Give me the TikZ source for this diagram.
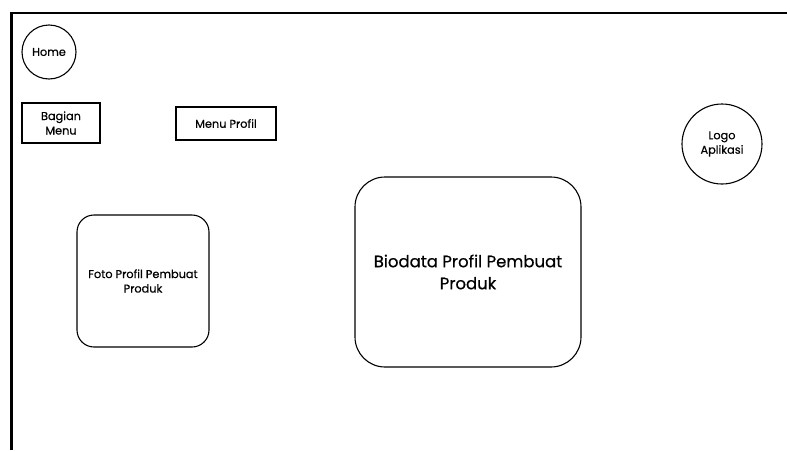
\documentclass[tikz,border=0pt]{standalone}
\usepackage{fontspec}
\setmainfont{Poppins}[FakeBold=0.5]
\begin{document}
\begin{tikzpicture}[x=1pt,y=-1pt,
  frame/.style={line width=2.6pt},
  ring/.style={draw, circle, line width=1.1pt, inner sep=0pt, align=center},
  boxed/.style={draw, rectangle, line width=1.1pt, inner sep=0pt, align=center},
  card/.style={draw, rectangle, rounded corners=#1, line width=1.1pt, inner sep=0pt, align=center},
  small/.style={font=\fontsize{11.3}{14.5}\selectfont},
  big/.style={font=\fontsize{16.5}{22}\selectfont}]
\useasboundingbox (0,0) rectangle (787,450);
% screen outline (top and left edges)
\draw[frame] (787,13) -- (11.5,13) -- (11.5,450);
% header items
\node[ring, minimum size=54pt, small] (home) at (49,52) {Home};
\node[boxed, minimum width=78pt, minimum height=40pt, small] (menu) at (61,123) {Bagian\\Menu};
\node[boxed, minimum width=100pt, minimum height=33pt, small] (profil) at (226,123.5) {Menu Profil};
\node[ring, minimum size=80pt, small] (logo) at (722,144) {Logo\\Aplikasi};
% content cards
\node[card=17pt, minimum width=132pt, minimum height=132pt, small] (foto) at (143,281) {Foto Profil Pembuat\\Produk};
\node[card=30pt, minimum width=226pt, minimum height=190pt, big] (bio) at (468,272) {Biodata Profil Pembuat\\Produk};
\end{tikzpicture}
\end{document}
